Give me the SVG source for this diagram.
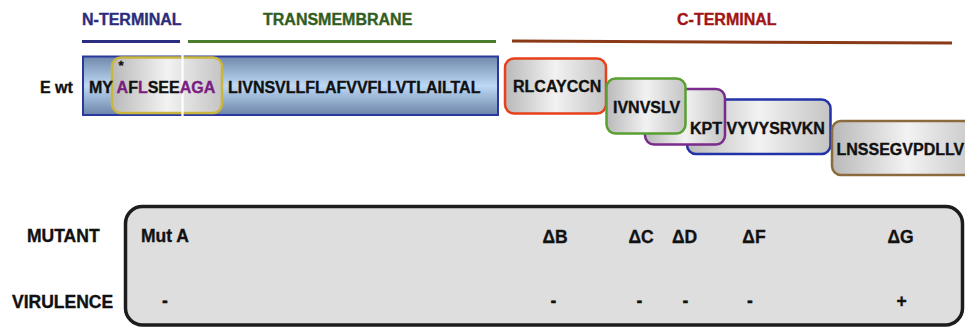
<svg xmlns="http://www.w3.org/2000/svg" width="965" height="329" viewBox="0 0 965 329" font-weight="bold">
<defs>
<linearGradient id="blueBar" x1="0" y1="0" x2="0" y2="1">
<stop offset="0" stop-color="#7088ab"/>
<stop offset="0.5" stop-color="#bdd9f6"/>
<stop offset="1" stop-color="#6c84a8"/>
</linearGradient>
<linearGradient id="silver" x1="0" y1="0" x2="1" y2="0">
<stop offset="0" stop-color="#b9b9b9"/>
<stop offset="0.5" stop-color="#f2f2f2"/>
<stop offset="1" stop-color="#c4c4c4"/>
</linearGradient>
<style>
text{font-family:"Liberation Sans",Arial,sans-serif;font-weight:bold;stroke-width:0.35;}
.seq{font-size:16px;fill:#111;stroke:#111;}
.lbl{font-size:17.5px;fill:#111;stroke:#111;}
.pur{fill:#7a1e80;stroke:#7a1e80;}
.box{fill:url(#silver);stroke-width:2.5;}
</style>
</defs>
<rect width="965" height="329" fill="#ffffff"/>

<g id="headers">
<text x="82" y="25" font-size="16" fill="#2b2d7c" stroke="#2b2d7c">N-TERMINAL</text>
<text x="263" y="25" font-size="16" fill="#2f5e1f" stroke="#2f5e1f">TRANSMEMBRANE</text>
<text x="677" y="25" font-size="16" fill="#a11414" stroke="#a11414">C-TERMINAL</text>
<line x1="82" y1="41.5" x2="180" y2="41.5" stroke="#2b2d80" stroke-width="3"/>
<line x1="188" y1="41.5" x2="496" y2="41.5" stroke="#4b7b2c" stroke-width="3"/>
<line x1="512" y1="41" x2="952" y2="43" stroke="#8b3a18" stroke-width="3"/>
</g>

<g id="ewt">
<text class="seq" x="40" y="92.5">E wt</text>
<rect x="83" y="56.5" width="415" height="58.5" fill="url(#blueBar)" stroke="#2a38a0" stroke-width="2"/>
<rect x="112" y="57.5" width="110" height="55.5" rx="9" fill="url(#silver)" stroke="#c9b63e" stroke-width="2.5"/>
<line x1="182.5" y1="55" x2="182.5" y2="116" stroke="#ffffff" stroke-width="2.2"/>
<text x="118.5" y="70" font-size="13" fill="#111" stroke="#111">*</text>
<text class="seq" x="89" y="92.5">MY <tspan class="pur">A</tspan>F<tspan class="pur">L</tspan>SEE<tspan class="pur">AGA</tspan></text>
<text class="seq" x="228" y="92.5">LIVNSVLLFLAFVVFLLVTLAILTAL</text>
</g>

<g id="boxB">
<rect class="box" x="505" y="58.5" width="101" height="55" rx="9" stroke="#e8401a"/>
<text class="seq" x="513" y="92">RLCAYCCN</text>
</g>
<g id="boxF">
<rect class="box" x="687" y="99.5" width="143.5" height="54.5" rx="9" stroke="#2232a8"/>
<text class="seq" x="726.5" y="134">VYVYSRVKN</text>
</g>
<g id="boxD">
<rect class="box" x="645" y="89" width="80" height="55.5" rx="9" stroke="#7a2b8c"/>
<text class="seq" x="690" y="134">KPT</text>
</g>
<g id="boxC">
<rect class="box" x="606.5" y="78.5" width="79" height="55" rx="9" stroke="#58a032"/>
<text class="seq" x="613" y="113">IVNVSLV</text>
</g>
<g id="boxG">
<rect class="box" x="832" y="121" width="150" height="54" rx="9" stroke="#8b6b3b"/>
<text class="seq" x="836.5" y="155">LNSSEGVPDLLV</text>
</g>

<g id="table">
<text class="lbl" x="27" y="242">MUTANT</text>
<text class="lbl" x="12" y="308">VIRULENCE</text>
<rect x="125.5" y="206.5" width="837" height="118.5" rx="17" fill="#dedede" stroke="#1c1c1c" stroke-width="3.5"/>
<text class="lbl" x="141" y="242">Mut A</text>
<text class="lbl" x="555" y="243" text-anchor="middle">ΔB</text>
<text class="lbl" x="641" y="243" text-anchor="middle">ΔC</text>
<text class="lbl" x="684.5" y="243" text-anchor="middle">ΔD</text>
<text class="lbl" x="754" y="243" text-anchor="middle">ΔF</text>
<text class="lbl" x="900.5" y="243" text-anchor="middle">ΔG</text>
<text class="lbl" x="165" y="307" text-anchor="middle">-</text>
<text class="lbl" x="553.5" y="307" text-anchor="middle">-</text>
<text class="lbl" x="639.5" y="307" text-anchor="middle">-</text>
<text class="lbl" x="685.5" y="307" text-anchor="middle">-</text>
<text class="lbl" x="750" y="307" text-anchor="middle">-</text>
<text class="lbl" x="901.5" y="307" text-anchor="middle">+</text>
</g>
</svg>
